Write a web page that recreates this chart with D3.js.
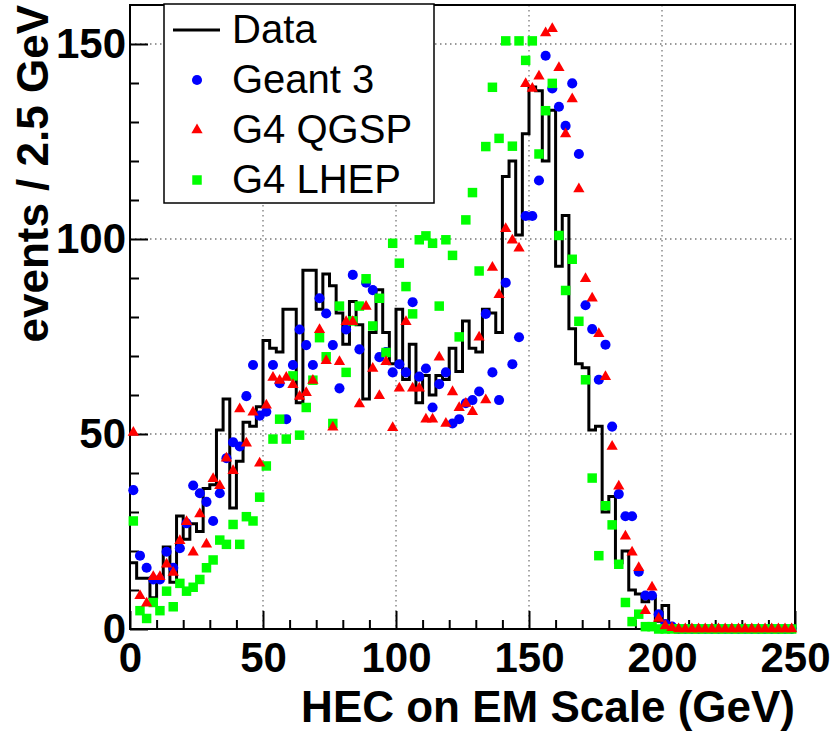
<!DOCTYPE html>
<html>
<head>
<meta charset="utf-8">
<script src="https://cdn.jsdelivr.net/npm/d3@7"></script>
<style>
  body { margin: 0; background: #ffffff; }
  svg { display: block; font-family: "Liberation Sans", Arial, Helvetica, sans-serif; }
</style>
</head>
<body>
<div id="chart"></div>
<script>
// 100 bins of 2.5 GeV from 0 to 250 GeV
const BIN_WIDTH = 2.5;
const binLow = d3.range(0, 250, BIN_WIDTH);

const dataCounts = [
  17, 13, 13, 8, 13, 21, 12, 29, 23, 27,
  25, 36, 37, 51, 59, 31, 43, 53, 52, 57,
  74, 72, 71, 82, 82, 58, 92, 92, 82, 91,
  88, 81, 73, 84, 78, 59, 76, 87, 76, 68,
  82, 64, 73, 58, 65, 60, 65, 64, 72, 66,
  79, 72, 71, 82, 81, 76, 116, 120, 101, 127,
  139, 138, 120, 133, 93, 106, 77, 68, 67, 51,
  52, 30, 34, 17, 20, 10, 9, 7, 8, 2,
  6, 0, 0, 0, 0, 0, 0, 0, 0, 0,
  0, 0, 0, 0, 0, 0, 0, 0, 0, 0
];

const geant3 = [
  35.6, 18.8, 15.7, 12.7, 12.7, 19.8, 15.7, 20.7, 27.1, 36.8,
  34.8, 32.6, 27.7, 34.8, 43.8, 47.9, 46.8, 59.7, 67.7, 54.7,
  55.7, 67.7, 63.0, 53.8, 67.7, 76.8, 72.8, 67.7, 84.8, 80.9,
  72.8, 61.7, 76.8, 90.8, 71.7, 88.8, 86.9, 69.7, 71.0, 65.8,
  67.9, 65.8, 83.8, 64.7, 66.8, 56.8, 62.8, 65.8, 52.7, 53.8,
  57.9, 58.7, 60.9, 80.8, 65.8, 58.7, 88.8, 67.9, 74.8, 105.9,
  105.9, 115.0, 147.0, 138.6, 133.9, 129.0, 139.9, 121.8, 83.0, 76.9,
  63.9, 72.9, 51.9, 34.6, 28.9, 28.9, 14.7, 8.6, 8.6, 3.8,
  1.3, 0.6, 0, 0, 0, 0, 0, 0, 0, 0,
  0, 0, 0, 0, 0, 0, 0, 0, 0, 0
];

const g4qgsp = [
  50.4, 8.5, 6.6, 13.4, 13.4, 16.6, 14.5, 22.6, 27.5, 19.7,
  29.5, 21.7, 38.5, 36.7, 43.8, 40.6, 56.4, 47.6, 55.6, 42.5,
  57.4, 64.5, 63.7, 64.5, 62.6, 59.6, 60.6, 63.7, 76.7, 68.8,
  51.7, 68.5, 78.8, 78.8, 57.7, 82.7, 66.8, 59.8, 68.5, 51.6,
  61.7, 78.8, 61.7, 61.7, 53.8, 53.8, 69.7, 52.7, 60.8, 56.7,
  57.8, 55.7, 74.8, 58.7, 92.7, 85.7, 102.6, 99.7, 97.6, 139.8,
  138.6, 141.7, 152.8, 153.9, 143.9, 126.9, 135.9, 112.8, 89.8, 84.8,
  75.7, 64.7, 46.8, 36.6, 23.8, 19.7, 15.7, 4.7, 10.7, 2.7,
  0.8, 0.3, 0, 0, 0, 0, 0, 0, 0, 0,
  0, 0, 0, 0, 0, 0, 0, 0, 0, 0
];

const g4lhep = [
  27.7, 4.7, 2.7, 6.8, 4.7, 9.7, 5.7, 11.7, 9.7, 10.7,
  12.7, 15.7, 17.7, 22.8, 21.7, 26.8, 21.7, 28.8, 27.7, 33.8,
  41.8, 48.7, 53.8, 48.7, 64.9, 49.7, 56.8, 63.8, 74.7, 69.8,
  52.7, 82.8, 65.8, 79.0, 82.8, 89.8, 77.7, 84.8, 70.9, 98.9,
  93.8, 87.8, 80.8, 99.8, 100.8, 98.9, 82.8, 99.8, 95.8, 74.9,
  104.9, 111.9, 91.8, 123.7, 138.9, 125.8, 150.8, 123.8, 150.8, 145.8,
  150.8, 121.8, 132.9, 139.9, 100.9, 86.8, 94.8, 78.9, 63.9, 38.7,
  18.8, 31.6, 26.7, 16.6, 6.8, 1.9, 3.8, 0.6, 0.6, 0,
  0, 0, 0, 0, 0, 0, 0, 0, 0, 0,
  0, 0, 0, 0, 0, 0, 0, 0, 0, 0
];

const xMajorTicks = [0, 50, 100, 150, 200, 250];
const xMinorTicks = [10, 20, 30, 40, 60, 70, 80, 90, 110, 120, 130, 140, 160, 170, 180, 190, 210, 220, 230, 240];
const yMajorTicks = [0, 50, 100, 150];
const yMinorTicks = [10, 20, 30, 40, 60, 70, 80, 90, 110, 120, 130, 140];

const legendLabels = ["Data", "Geant 3", "G4 QGSP", "G4 LHEP"];

const BLUE = "#0000ff";
const RED = "#ff0000";
const GREEN = "#00ff00";

const W = 836, H = 732;
const margin = {left: 130, top: 5, right: 41, bottom: 103};
const width = W - margin.left - margin.right;
const height = H - margin.top - margin.bottom;

let svg = d3.select("#chart")
    .append("svg")
    .attr("width", W)
    .attr("height", H);

let chart = svg.append("g")
    .attr("transform", "translate(" + margin.left + ", " + margin.top + ")");

let x = d3.scaleLinear().domain([0, 250]).range([0, width]);
let y = d3.scaleLinear().domain([0, 160]).range([height, 0]);

// dotted grid at the major ticks
let grid = chart.append("g")
    .attr("stroke", "#777")
    .attr("stroke-width", 1.3)
    .attr("stroke-dasharray", "1.5,3.5");
[50, 100, 150, 200].forEach(function(v) {
    grid.append("line")
        .attr("x1", x(v)).attr("x2", x(v))
        .attr("y1", 0).attr("y2", height);
});
[50, 100, 150].forEach(function(v) {
    grid.append("line")
        .attr("x1", 0).attr("x2", width)
        .attr("y1", y(v)).attr("y2", y(v));
});

// axes, ticks pointing inward
function styleAxis(g) {
    g.select(".domain").remove();
    g.selectAll(".tick line").attr("stroke", "#000").attr("stroke-width", 2);
    g.selectAll(".tick text")
        .attr("fill", "#000")
        .style("font-family", "'Liberation Sans', Arial, sans-serif")
        .style("font-weight", "bold")
        .style("font-size", "42px");
}

chart.append("g")
    .attr("transform", "translate(0, " + height + ")")
    .call(d3.axisBottom(x).tickValues(xMajorTicks).tickSize(-18).tickPadding(13).tickFormat(d3.format("d")))
    .call(styleAxis);

chart.append("g")
    .attr("transform", "translate(0, " + height + ")")
    .call(d3.axisBottom(x).tickValues(xMinorTicks).tickSize(-9).tickFormat(""))
    .call(styleAxis);

chart.append("g")
    .call(d3.axisLeft(y).tickValues(yMajorTicks).tickSize(-18).tickPadding(4).tickFormat(d3.format("d")))
    .call(styleAxis);

chart.append("g")
    .call(d3.axisLeft(y).tickValues(yMinorTicks).tickSize(-9).tickFormat(""))
    .call(styleAxis);

chart.append("rect")
    .attr("x", 0).attr("y", 0)
    .attr("width", width).attr("height", height)
    .attr("fill", "none")
    .attr("stroke", "#000")
    .attr("stroke-width", 2);

// data histogram as a step line
const histPoints = binLow.map(function(lo, i) { return [lo, dataCounts[i]]; });
histPoints.push([250, dataCounts[dataCounts.length - 1]]);

let histLine = d3.line()
    .x(function(d) { return x(d[0]); })
    .y(function(d) { return y(d[1]); })
    .curve(d3.curveStepAfter);

chart.append("path")
    .datum(histPoints)
    .attr("d", histLine)
    .attr("fill", "none")
    .attr("stroke", "#000")
    .attr("stroke-width", 3)
    .attr("stroke-linejoin", "miter");

// simulation markers at bin centres
function drawMarkers(values, symbol, size, color) {
    chart.append("g")
        .selectAll("path")
        .data(values)
        .enter()
        .append("path")
        .attr("d", d3.symbol().type(symbol).size(size))
        .attr("transform", function(v, i) {
            return "translate(" + x(binLow[i] + BIN_WIDTH / 2) + ", " + y(v) + ")";
        })
        .attr("fill", color);
}

drawMarkers(geant3, d3.symbolCircle, 80, BLUE);
drawMarkers(g4lhep, d3.symbolSquare, 90, GREEN);
drawMarkers(g4qgsp, d3.symbolTriangle, 55, RED);

// legend
let legend = svg.append("g");
legend.append("rect")
    .attr("x", 164).attr("y", 4)
    .attr("width", 270).attr("height", 199)
    .attr("fill", "#fff")
    .attr("stroke", "#000")
    .attr("stroke-width", 1.5);

legend.append("line")
    .attr("x1", 173).attr("x2", 220)
    .attr("y1", 30).attr("y2", 30)
    .attr("stroke", "#000")
    .attr("stroke-width", 3);

legend.append("path")
    .attr("d", d3.symbol().type(d3.symbolCircle).size(80))
    .attr("transform", "translate(197, 80)")
    .attr("fill", BLUE);
legend.append("path")
    .attr("d", d3.symbol().type(d3.symbolTriangle).size(55))
    .attr("transform", "translate(197, 130)")
    .attr("fill", RED);
legend.append("path")
    .attr("d", d3.symbol().type(d3.symbolSquare).size(90))
    .attr("transform", "translate(197, 180)")
    .attr("fill", GREEN);

legend.selectAll("text.leg")
    .data(legendLabels)
    .enter()
    .append("text")
    .attr("class", "leg")
    .attr("x", 232)
    .attr("y", function(d, i) { return 43 + i * 50; })
    .style("font-size", "40px")
    .text(function(d) { return d; });

// axis titles
svg.append("text")
    .attr("x", 795)
    .attr("y", 722)
    .attr("text-anchor", "end")
    .style("font-size", "44px")
    .style("font-weight", "bold")
    .text("HEC on EM Scale (GeV)");

svg.append("text")
    .attr("transform", "translate(48, 5) rotate(-90)")
    .attr("text-anchor", "end")
    .style("font-size", "44px")
    .style("font-weight", "bold")
    .text("events / 2.5 GeV");
</script>
</body>
</html>
